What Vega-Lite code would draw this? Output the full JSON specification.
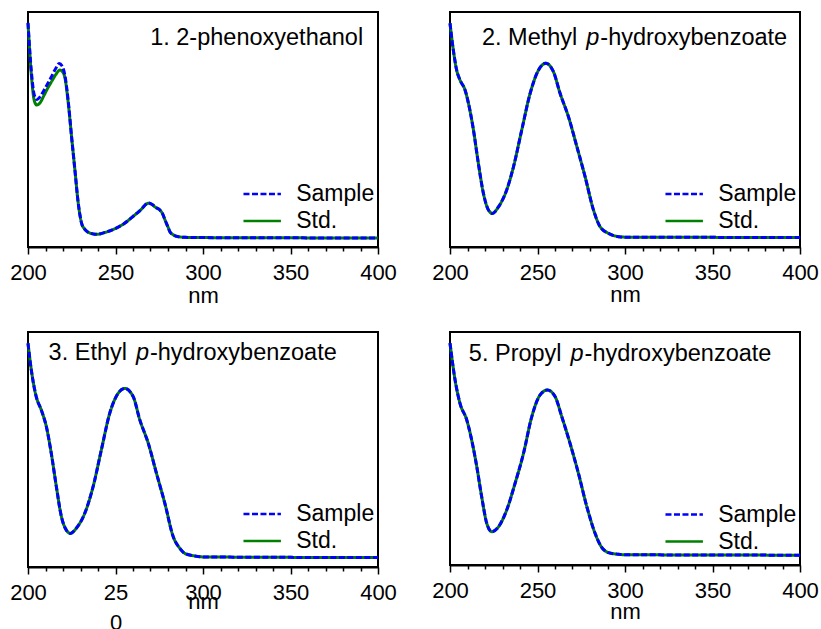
{
  "$schema": "https://vega.github.io/schema/vega-lite/v6.json",
  "padding": {"left": 8, "top": 11, "right": 0, "bottom": 0},
  "background": "white",
  "datasets": {
    "spectra": [
      {"panel":1,"series":"Std.","nm":200,"abs":0.952},{"panel":1,"series":"Std.","nm":202,"abs":0.725},{"panel":1,"series":"Std.","nm":203.5,"abs":0.626},{"panel":1,"series":"Std.","nm":205,"abs":0.604},{"panel":1,"series":"Std.","nm":207,"abs":0.615},{"panel":1,"series":"Std.","nm":209,"abs":0.643},{"panel":1,"series":"Std.","nm":211,"abs":0.672},{"panel":1,"series":"Std.","nm":213.4,"abs":0.703},{"panel":1,"series":"Std.","nm":216,"abs":0.735},{"panel":1,"series":"Std.","nm":218.2,"abs":0.753},{"panel":1,"series":"Std.","nm":219.8,"abs":0.745},{"panel":1,"series":"Std.","nm":221.1,"abs":0.72},{"panel":1,"series":"Std.","nm":223,"abs":0.613},{"panel":1,"series":"Std.","nm":224.9,"abs":0.469},{"panel":1,"series":"Std.","nm":226.8,"abs":0.328},{"panel":1,"series":"Std.","nm":228.7,"abs":0.187},{"panel":1,"series":"Std.","nm":230.6,"abs":0.102},{"panel":1,"series":"Std.","nm":232.5,"abs":0.075},{"panel":1,"series":"Std.","nm":234.4,"abs":0.063},{"panel":1,"series":"Std.","nm":237,"abs":0.056},{"panel":1,"series":"Std.","nm":239.2,"abs":0.054},{"panel":1,"series":"Std.","nm":244,"abs":0.062},{"panel":1,"series":"Std.","nm":249.7,"abs":0.078},{"panel":1,"series":"Std.","nm":255,"abs":0.1},{"panel":1,"series":"Std.","nm":259.2,"abs":0.125},{"panel":1,"series":"Std.","nm":264,"abs":0.155},{"panel":1,"series":"Std.","nm":268.8,"abs":0.186},{"panel":1,"series":"Std.","nm":271,"abs":0.18},{"panel":1,"series":"Std.","nm":273,"abs":0.168},{"panel":1,"series":"Std.","nm":275.4,"abs":0.157},{"panel":1,"series":"Std.","nm":277,"abs":0.14},{"panel":1,"series":"Std.","nm":278.3,"abs":0.115},{"panel":1,"series":"Std.","nm":280,"abs":0.085},{"panel":1,"series":"Std.","nm":281.1,"abs":0.065},{"panel":1,"series":"Std.","nm":283,"abs":0.052},{"panel":1,"series":"Std.","nm":285.9,"abs":0.044},{"panel":1,"series":"Std.","nm":290,"abs":0.041},{"panel":1,"series":"Std.","nm":300,"abs":0.04},{"panel":1,"series":"Std.","nm":350,"abs":0.039},{"panel":1,"series":"Std.","nm":400,"abs":0.038},
      {"panel":1,"series":"Sample","nm":200,"abs":0.954},{"panel":1,"series":"Sample","nm":202,"abs":0.74},{"panel":1,"series":"Sample","nm":203.5,"abs":0.65},{"panel":1,"series":"Sample","nm":205,"abs":0.628},{"panel":1,"series":"Sample","nm":207,"abs":0.64},{"panel":1,"series":"Sample","nm":209,"abs":0.665},{"panel":1,"series":"Sample","nm":211,"abs":0.692},{"panel":1,"series":"Sample","nm":213.4,"abs":0.725},{"panel":1,"series":"Sample","nm":216,"abs":0.762},{"panel":1,"series":"Sample","nm":217.8,"abs":0.781},{"panel":1,"series":"Sample","nm":219.5,"abs":0.77},{"panel":1,"series":"Sample","nm":221.1,"abs":0.73},{"panel":1,"series":"Sample","nm":223,"abs":0.62},{"panel":1,"series":"Sample","nm":224.9,"abs":0.469},{"panel":1,"series":"Sample","nm":226.8,"abs":0.328},{"panel":1,"series":"Sample","nm":228.7,"abs":0.187},{"panel":1,"series":"Sample","nm":230.6,"abs":0.102},{"panel":1,"series":"Sample","nm":232.5,"abs":0.075},{"panel":1,"series":"Sample","nm":234.4,"abs":0.063},{"panel":1,"series":"Sample","nm":237,"abs":0.056},{"panel":1,"series":"Sample","nm":239.2,"abs":0.054},{"panel":1,"series":"Sample","nm":244,"abs":0.062},{"panel":1,"series":"Sample","nm":249.7,"abs":0.078},{"panel":1,"series":"Sample","nm":255,"abs":0.1},{"panel":1,"series":"Sample","nm":259.2,"abs":0.125},{"panel":1,"series":"Sample","nm":264,"abs":0.155},{"panel":1,"series":"Sample","nm":268.8,"abs":0.187},{"panel":1,"series":"Sample","nm":271,"abs":0.181},{"panel":1,"series":"Sample","nm":273,"abs":0.169},{"panel":1,"series":"Sample","nm":275.4,"abs":0.157},{"panel":1,"series":"Sample","nm":277,"abs":0.14},{"panel":1,"series":"Sample","nm":278.3,"abs":0.115},{"panel":1,"series":"Sample","nm":280,"abs":0.085},{"panel":1,"series":"Sample","nm":281.1,"abs":0.065},{"panel":1,"series":"Sample","nm":283,"abs":0.052},{"panel":1,"series":"Sample","nm":285.9,"abs":0.044},{"panel":1,"series":"Sample","nm":290,"abs":0.041},{"panel":1,"series":"Sample","nm":300,"abs":0.04},{"panel":1,"series":"Sample","nm":350,"abs":0.039},{"panel":1,"series":"Sample","nm":400,"abs":0.038},
      {"panel":2,"series":"Std.","nm":200,"abs":0.952},{"panel":2,"series":"Std.","nm":201.9,"abs":0.838},{"panel":2,"series":"Std.","nm":203.8,"abs":0.753},{"panel":2,"series":"Std.","nm":205.7,"abs":0.711},{"panel":2,"series":"Std.","nm":208.6,"abs":0.668},{"panel":2,"series":"Std.","nm":210.5,"abs":0.613},{"panel":2,"series":"Std.","nm":213.4,"abs":0.498},{"panel":2,"series":"Std.","nm":216.2,"abs":0.356},{"panel":2,"series":"Std.","nm":219.1,"abs":0.228},{"panel":2,"series":"Std.","nm":222,"abs":0.157},{"panel":2,"series":"Std.","nm":224.2,"abs":0.143},{"panel":2,"series":"Std.","nm":227.7,"abs":0.171},{"panel":2,"series":"Std.","nm":232.4,"abs":0.243},{"panel":2,"series":"Std.","nm":236.3,"abs":0.342},{"panel":2,"series":"Std.","nm":241,"abs":0.498},{"panel":2,"series":"Std.","nm":245.8,"abs":0.654},{"panel":2,"series":"Std.","nm":250.6,"abs":0.753},{"panel":2,"series":"Std.","nm":254.7,"abs":0.782},{"panel":2,"series":"Std.","nm":259.1,"abs":0.746},{"panel":2,"series":"Std.","nm":262.9,"abs":0.654},{"panel":2,"series":"Std.","nm":267.7,"abs":0.554},{"panel":2,"series":"Std.","nm":272.5,"abs":0.427},{"panel":2,"series":"Std.","nm":277.2,"abs":0.299},{"panel":2,"series":"Std.","nm":282,"abs":0.157},{"panel":2,"series":"Std.","nm":285.8,"abs":0.086},{"panel":2,"series":"Std.","nm":290.6,"abs":0.058},{"panel":2,"series":"Std.","nm":296.3,"abs":0.044},{"panel":2,"series":"Std.","nm":300,"abs":0.042},{"panel":2,"series":"Std.","nm":350,"abs":0.041},{"panel":2,"series":"Std.","nm":400,"abs":0.04},
      {"panel":2,"series":"Sample","nm":200,"abs":0.952},{"panel":2,"series":"Sample","nm":201.9,"abs":0.838},{"panel":2,"series":"Sample","nm":203.8,"abs":0.753},{"panel":2,"series":"Sample","nm":205.7,"abs":0.711},{"panel":2,"series":"Sample","nm":208.6,"abs":0.668},{"panel":2,"series":"Sample","nm":210.5,"abs":0.613},{"panel":2,"series":"Sample","nm":213.4,"abs":0.498},{"panel":2,"series":"Sample","nm":216.2,"abs":0.356},{"panel":2,"series":"Sample","nm":219.1,"abs":0.228},{"panel":2,"series":"Sample","nm":222,"abs":0.157},{"panel":2,"series":"Sample","nm":224.2,"abs":0.143},{"panel":2,"series":"Sample","nm":227.7,"abs":0.171},{"panel":2,"series":"Sample","nm":232.4,"abs":0.243},{"panel":2,"series":"Sample","nm":236.3,"abs":0.342},{"panel":2,"series":"Sample","nm":241,"abs":0.498},{"panel":2,"series":"Sample","nm":245.8,"abs":0.654},{"panel":2,"series":"Sample","nm":250.6,"abs":0.753},{"panel":2,"series":"Sample","nm":254.7,"abs":0.782},{"panel":2,"series":"Sample","nm":259.1,"abs":0.746},{"panel":2,"series":"Sample","nm":262.9,"abs":0.654},{"panel":2,"series":"Sample","nm":267.7,"abs":0.554},{"panel":2,"series":"Sample","nm":272.5,"abs":0.427},{"panel":2,"series":"Sample","nm":277.2,"abs":0.299},{"panel":2,"series":"Sample","nm":282,"abs":0.157},{"panel":2,"series":"Sample","nm":285.8,"abs":0.086},{"panel":2,"series":"Sample","nm":290.6,"abs":0.058},{"panel":2,"series":"Sample","nm":296.3,"abs":0.044},{"panel":2,"series":"Sample","nm":300,"abs":0.042},{"panel":2,"series":"Sample","nm":350,"abs":0.041},{"panel":2,"series":"Sample","nm":400,"abs":0.04},
      {"panel":3,"series":"Std.","nm":200,"abs":0.952},{"panel":3,"series":"Std.","nm":201.9,"abs":0.838},{"panel":3,"series":"Std.","nm":204.7,"abs":0.725},{"panel":3,"series":"Std.","nm":207.6,"abs":0.668},{"panel":3,"series":"Std.","nm":210.5,"abs":0.597},{"panel":3,"series":"Std.","nm":213.3,"abs":0.484},{"panel":3,"series":"Std.","nm":216.2,"abs":0.342},{"panel":3,"series":"Std.","nm":219.1,"abs":0.214},{"panel":3,"series":"Std.","nm":221.9,"abs":0.157},{"panel":3,"series":"Std.","nm":224.2,"abs":0.143},{"panel":3,"series":"Std.","nm":227.6,"abs":0.165},{"panel":3,"series":"Std.","nm":232.4,"abs":0.228},{"panel":3,"series":"Std.","nm":237.2,"abs":0.342},{"panel":3,"series":"Std.","nm":241.9,"abs":0.498},{"panel":3,"series":"Std.","nm":246.7,"abs":0.654},{"panel":3,"series":"Std.","nm":251.5,"abs":0.739},{"panel":3,"series":"Std.","nm":255.3,"abs":0.76},{"panel":3,"series":"Std.","nm":260.1,"abs":0.725},{"panel":3,"series":"Std.","nm":263.9,"abs":0.626},{"panel":3,"series":"Std.","nm":268.7,"abs":0.527},{"panel":3,"series":"Std.","nm":273.4,"abs":0.399},{"panel":3,"series":"Std.","nm":278.2,"abs":0.271},{"panel":3,"series":"Std.","nm":283,"abs":0.129},{"panel":3,"series":"Std.","nm":286.7,"abs":0.08},{"panel":3,"series":"Std.","nm":289.6,"abs":0.058},{"panel":3,"series":"Std.","nm":295.3,"abs":0.047},{"panel":3,"series":"Std.","nm":300,"abs":0.043},{"panel":3,"series":"Std.","nm":350,"abs":0.041},{"panel":3,"series":"Std.","nm":400,"abs":0.04},
      {"panel":3,"series":"Sample","nm":200,"abs":0.952},{"panel":3,"series":"Sample","nm":201.9,"abs":0.838},{"panel":3,"series":"Sample","nm":204.7,"abs":0.725},{"panel":3,"series":"Sample","nm":207.6,"abs":0.668},{"panel":3,"series":"Sample","nm":210.5,"abs":0.597},{"panel":3,"series":"Sample","nm":213.3,"abs":0.484},{"panel":3,"series":"Sample","nm":216.2,"abs":0.342},{"panel":3,"series":"Sample","nm":219.1,"abs":0.214},{"panel":3,"series":"Sample","nm":221.9,"abs":0.157},{"panel":3,"series":"Sample","nm":224.2,"abs":0.143},{"panel":3,"series":"Sample","nm":227.6,"abs":0.165},{"panel":3,"series":"Sample","nm":232.4,"abs":0.228},{"panel":3,"series":"Sample","nm":237.2,"abs":0.342},{"panel":3,"series":"Sample","nm":241.9,"abs":0.498},{"panel":3,"series":"Sample","nm":246.7,"abs":0.654},{"panel":3,"series":"Sample","nm":251.5,"abs":0.739},{"panel":3,"series":"Sample","nm":255.3,"abs":0.76},{"panel":3,"series":"Sample","nm":260.1,"abs":0.725},{"panel":3,"series":"Sample","nm":263.9,"abs":0.626},{"panel":3,"series":"Sample","nm":268.7,"abs":0.527},{"panel":3,"series":"Sample","nm":273.4,"abs":0.399},{"panel":3,"series":"Sample","nm":278.2,"abs":0.271},{"panel":3,"series":"Sample","nm":283,"abs":0.129},{"panel":3,"series":"Sample","nm":286.7,"abs":0.08},{"panel":3,"series":"Sample","nm":289.6,"abs":0.058},{"panel":3,"series":"Sample","nm":295.3,"abs":0.047},{"panel":3,"series":"Sample","nm":300,"abs":0.043},{"panel":3,"series":"Sample","nm":350,"abs":0.041},{"panel":3,"series":"Sample","nm":400,"abs":0.04},
      {"panel":4,"series":"Std.","nm":200,"abs":0.952},{"panel":4,"series":"Std.","nm":202.9,"abs":0.794},{"panel":4,"series":"Std.","nm":205.7,"abs":0.694},{"panel":4,"series":"Std.","nm":209.6,"abs":0.622},{"panel":4,"series":"Std.","nm":212.4,"abs":0.536},{"panel":4,"series":"Std.","nm":215.3,"abs":0.422},{"panel":4,"series":"Std.","nm":218.1,"abs":0.293},{"panel":4,"series":"Std.","nm":221,"abs":0.179},{"panel":4,"series":"Std.","nm":223.9,"abs":0.143},{"panel":4,"series":"Std.","nm":227.7,"abs":0.164},{"panel":4,"series":"Std.","nm":232.4,"abs":0.236},{"panel":4,"series":"Std.","nm":237.2,"abs":0.351},{"panel":4,"series":"Std.","nm":242,"abs":0.479},{"panel":4,"series":"Std.","nm":246.7,"abs":0.636},{"panel":4,"series":"Std.","nm":251.5,"abs":0.73},{"panel":4,"series":"Std.","nm":255.7,"abs":0.751},{"panel":4,"series":"Std.","nm":260.1,"abs":0.722},{"panel":4,"series":"Std.","nm":263.9,"abs":0.636},{"panel":4,"series":"Std.","nm":268.6,"abs":0.522},{"panel":4,"series":"Std.","nm":273.4,"abs":0.393},{"panel":4,"series":"Std.","nm":278.2,"abs":0.25},{"panel":4,"series":"Std.","nm":282.9,"abs":0.136},{"panel":4,"series":"Std.","nm":286.4,"abs":0.079},{"panel":4,"series":"Std.","nm":290.6,"abs":0.053},{"panel":4,"series":"Std.","nm":296.3,"abs":0.046},{"panel":4,"series":"Std.","nm":300,"abs":0.044},{"panel":4,"series":"Std.","nm":350,"abs":0.043},{"panel":4,"series":"Std.","nm":400,"abs":0.042},
      {"panel":4,"series":"Sample","nm":200,"abs":0.952},{"panel":4,"series":"Sample","nm":202.9,"abs":0.794},{"panel":4,"series":"Sample","nm":205.7,"abs":0.694},{"panel":4,"series":"Sample","nm":209.6,"abs":0.622},{"panel":4,"series":"Sample","nm":212.4,"abs":0.536},{"panel":4,"series":"Sample","nm":215.3,"abs":0.422},{"panel":4,"series":"Sample","nm":218.1,"abs":0.293},{"panel":4,"series":"Sample","nm":221,"abs":0.179},{"panel":4,"series":"Sample","nm":223.9,"abs":0.143},{"panel":4,"series":"Sample","nm":227.7,"abs":0.164},{"panel":4,"series":"Sample","nm":232.4,"abs":0.236},{"panel":4,"series":"Sample","nm":237.2,"abs":0.351},{"panel":4,"series":"Sample","nm":242,"abs":0.479},{"panel":4,"series":"Sample","nm":246.7,"abs":0.636},{"panel":4,"series":"Sample","nm":251.5,"abs":0.73},{"panel":4,"series":"Sample","nm":255.7,"abs":0.751},{"panel":4,"series":"Sample","nm":260.1,"abs":0.722},{"panel":4,"series":"Sample","nm":263.9,"abs":0.636},{"panel":4,"series":"Sample","nm":268.6,"abs":0.522},{"panel":4,"series":"Sample","nm":273.4,"abs":0.393},{"panel":4,"series":"Sample","nm":278.2,"abs":0.25},{"panel":4,"series":"Sample","nm":282.9,"abs":0.136},{"panel":4,"series":"Sample","nm":286.4,"abs":0.079},{"panel":4,"series":"Sample","nm":290.6,"abs":0.053},{"panel":4,"series":"Sample","nm":296.3,"abs":0.046},{"panel":4,"series":"Sample","nm":300,"abs":0.044},{"panel":4,"series":"Sample","nm":350,"abs":0.043},{"panel":4,"series":"Sample","nm":400,"abs":0.042}
    ],
    "titles": [
      {"panel":1,"part":"all","label":"1. 2-phenoxyethanol"},
      {"panel":2,"part":"pre","label":"2. Methyl"},{"panel":2,"part":"p","label":"p"},{"panel":2,"part":"post","label":"-hydroxybenzoate"},
      {"panel":3,"part":"pre","label":"3. Ethyl"},{"panel":3,"part":"p","label":"p"},{"panel":3,"part":"post","label":"-hydroxybenzoate"},
      {"panel":4,"part":"pre","label":"5. Propyl"},{"panel":4,"part":"p","label":"p"},{"panel":4,"part":"post","label":"-hydroxybenzoate"}
    ]
  },
  "data": {"name": "spectra"},
  "columns": 2,
  "spacing": {"row": 85, "column": 72},
  "bounds": "flush",
  "resolve": {
    "scale": {"color": "independent", "strokeDash": "independent", "x": "independent", "y": "independent"},
    "legend": {"color": "independent", "strokeDash": "independent"},
    "axis": {"x": "independent"}
  },
  "config": {
    "view": {"stroke": "black", "strokeWidth": 2},
    "axis": {"domainColor": "black", "domainWidth": 2, "tickColor": "black", "tickWidth": 1.5, "grid": false, "labelFont": "Liberation Sans", "labelFontSize": 22, "labelColor": "black", "titleFont": "Liberation Sans", "titleFontSize": 22, "titleFontWeight": "normal", "titleColor": "black", "labelOverlap": false, "labelFlush": false},
    "legend": {"title": null, "padding": 0, "rowPadding": 0, "symbolType": "M-1.44,0H1.44", "symbolSize": 676, "symbolStrokeWidth": 2.5, "labelFont": "Liberation Sans", "labelFontSize": 23, "labelColor": "black", "labelOffset": 19.5},
    "text": {"font": "Liberation Sans", "fontSize": 23.5, "color": "black", "baseline": "alphabetic"}
  },
  "concat": [
    {
      "width": 350, "height": 235,
      "resolve": {"axis": {"x": "independent"}},
      "layer": [
        {"transform": [{"filter": "datum.panel == 1 && datum.series == 'Std.'"}],
         "mark": {"type": "line", "interpolate": "monotone", "strokeWidth": 3},
         "encoding": {
           "x": {"field": "nm", "type": "quantitative", "scale": {"domain": [200, 400], "nice": false, "zero": false},
                 "axis": {"orient": "bottom", "title": "nm", "values": [200, 250, 300, 350, 400], "tickSize": 7, "labelPadding": 8, "titleY": 55, "titleBaseline": "alphabetic"}},
           "y": {"field": "abs", "type": "quantitative", "scale": {"domain": [0, 1], "nice": false, "zero": false}, "axis": null},
           "color": {"field": "series", "type": "nominal", "scale": {"domain": ["Sample", "Std."], "range": ["#0000ff", "#008000"]}, "legend": {"orient": "none", "legendX": 219.7, "legendY": 167.5}},
           "strokeDash": {"field": "series", "type": "nominal", "scale": {"domain": ["Sample", "Std."], "range": [[6, 2.5], [1, 0]]}, "legend": {"orient": "none", "legendX": 219.7, "legendY": 167.5}}
         }},
        {"transform": [{"filter": "datum.panel == 1 && datum.series == 'Sample'"}],
         "mark": {"type": "line", "interpolate": "monotone", "strokeWidth": 3},
         "encoding": {
           "x": {"field": "nm", "type": "quantitative", "axis": {"orient": "bottom", "title": null, "values": [210,220,230,240,260,270,280,290,310,320,330,340,360,370,380,390], "labels": false, "domain": false, "tickSize": 4}},
           "y": {"field": "abs", "type": "quantitative", "axis": null},
           "color": {"field": "series", "type": "nominal"},
           "strokeDash": {"field": "series", "type": "nominal"}
         }},
        {"data": {"name": "titles"}, "transform": [{"filter": "datum.panel == 1"}],
         "mark": {"type": "text", "align": "right"},
         "encoding": {"x": {"datum": 391.5, "type": "quantitative", "axis": null}, "y": {"datum": 0.86, "type": "quantitative", "axis": null}, "text": {"field": "label"}}}
      ]
    },
    {
      "width": 350, "height": 235,
      "resolve": {"axis": {"x": "independent"}},
      "layer": [
        {"transform": [{"filter": "datum.panel == 2 && datum.series == 'Std.'"}],
         "mark": {"type": "line", "interpolate": "monotone", "strokeWidth": 3},
         "encoding": {
           "x": {"field": "nm", "type": "quantitative", "scale": {"domain": [200, 400], "nice": false, "zero": false},
                 "axis": {"orient": "bottom", "title": "nm", "values": [200, 250, 300, 350, 400], "tickSize": 7, "labelPadding": 8, "titleY": 54, "titleBaseline": "alphabetic"}},
           "y": {"field": "abs", "type": "quantitative", "scale": {"domain": [0, 1], "nice": false, "zero": false}, "axis": null},
           "color": {"field": "series", "type": "nominal", "scale": {"domain": ["Sample", "Std."], "range": ["#0000ff", "#008000"]}, "legend": {"orient": "none", "legendX": 219.7, "legendY": 167.5}},
           "strokeDash": {"field": "series", "type": "nominal", "scale": {"domain": ["Sample", "Std."], "range": [[6, 2.5], [1, 0]]}, "legend": {"orient": "none", "legendX": 219.7, "legendY": 167.5}}
         }},
        {"transform": [{"filter": "datum.panel == 2 && datum.series == 'Sample'"}],
         "mark": {"type": "line", "interpolate": "monotone", "strokeWidth": 3},
         "encoding": {
           "x": {"field": "nm", "type": "quantitative", "axis": {"orient": "bottom", "title": null, "values": [210,220,230,240,260,270,280,290,310,320,330,340,360,370,380,390], "labels": false, "domain": false, "tickSize": 4}},
           "y": {"field": "abs", "type": "quantitative", "axis": null},
           "color": {"field": "series", "type": "nominal"},
           "strokeDash": {"field": "series", "type": "nominal"}
         }},
        {"data": {"name": "titles"}, "transform": [{"filter": "datum.panel == 2 && datum.part == 'pre'"}],
         "mark": {"type": "text", "align": "right", "dx": -9},
         "encoding": {"x": {"datum": 277.9, "type": "quantitative", "axis": null}, "y": {"datum": 0.86, "type": "quantitative", "axis": null}, "text": {"field": "label"}}},
        {"data": {"name": "titles"}, "transform": [{"filter": "datum.panel == 2 && datum.part == 'p'"}],
         "mark": {"type": "text", "align": "left", "fontStyle": "italic"},
         "encoding": {"x": {"datum": 277.9, "type": "quantitative", "axis": null}, "y": {"datum": 0.86, "type": "quantitative", "axis": null}, "text": {"field": "label"}}},
        {"data": {"name": "titles"}, "transform": [{"filter": "datum.panel == 2 && datum.part == 'post'"}],
         "mark": {"type": "text", "align": "left", "dx": 14},
         "encoding": {"x": {"datum": 277.9, "type": "quantitative", "axis": null}, "y": {"datum": 0.86, "type": "quantitative", "axis": null}, "text": {"field": "label"}}}
      ]
    },
    {
      "width": 350, "height": 235,
      "resolve": {"axis": {"x": "independent"}},
      "layer": [
        {"transform": [{"filter": "datum.panel == 3 && datum.series == 'Std.'"}],
         "mark": {"type": "line", "interpolate": "monotone", "strokeWidth": 3},
         "encoding": {
           "x": {"field": "nm", "type": "quantitative", "scale": {"domain": [200, 400], "nice": false, "zero": false},
                 "axis": {"orient": "bottom", "title": "nm", "values": [200, 250, 300, 350, 400], "labelExpr": "datum.value === 250 ? ['25', '0'] : datum.label", "labelLineHeight": 30, "tickSize": 7, "labelPadding": 8, "titleY": 41, "titleBaseline": "alphabetic"}},
           "y": {"field": "abs", "type": "quantitative", "scale": {"domain": [0, 1], "nice": false, "zero": false}, "axis": null},
           "color": {"field": "series", "type": "nominal", "scale": {"domain": ["Sample", "Std."], "range": ["#0000ff", "#008000"]}, "legend": {"orient": "none", "legendX": 219.7, "legendY": 167.5}},
           "strokeDash": {"field": "series", "type": "nominal", "scale": {"domain": ["Sample", "Std."], "range": [[6, 2.5], [1, 0]]}, "legend": {"orient": "none", "legendX": 219.7, "legendY": 167.5}}
         }},
        {"transform": [{"filter": "datum.panel == 3 && datum.series == 'Sample'"}],
         "mark": {"type": "line", "interpolate": "monotone", "strokeWidth": 3},
         "encoding": {
           "x": {"field": "nm", "type": "quantitative", "axis": {"orient": "bottom", "title": null, "values": [210,220,230,240,260,270,280,290,310,320,330,340,360,370,380,390], "labels": false, "domain": false, "tickSize": 4}},
           "y": {"field": "abs", "type": "quantitative", "axis": null},
           "color": {"field": "series", "type": "nominal"},
           "strokeDash": {"field": "series", "type": "nominal"}
         }},
        {"data": {"name": "titles"}, "transform": [{"filter": "datum.panel == 3 && datum.part == 'pre'"}],
         "mark": {"type": "text", "align": "right", "dx": -9},
         "encoding": {"x": {"datum": 261.7, "type": "quantitative", "axis": null}, "y": {"datum": 0.881, "type": "quantitative", "axis": null}, "text": {"field": "label"}}},
        {"data": {"name": "titles"}, "transform": [{"filter": "datum.panel == 3 && datum.part == 'p'"}],
         "mark": {"type": "text", "align": "left", "fontStyle": "italic"},
         "encoding": {"x": {"datum": 261.7, "type": "quantitative", "axis": null}, "y": {"datum": 0.881, "type": "quantitative", "axis": null}, "text": {"field": "label"}}},
        {"data": {"name": "titles"}, "transform": [{"filter": "datum.panel == 3 && datum.part == 'post'"}],
         "mark": {"type": "text", "align": "left", "dx": 14},
         "encoding": {"x": {"datum": 261.7, "type": "quantitative", "axis": null}, "y": {"datum": 0.881, "type": "quantitative", "axis": null}, "text": {"field": "label"}}}
      ]
    },
    {
      "width": 350, "height": 233,
      "resolve": {"axis": {"x": "independent"}},
      "layer": [
        {"transform": [{"filter": "datum.panel == 4 && datum.series == 'Std.'"}],
         "mark": {"type": "line", "interpolate": "monotone", "strokeWidth": 3},
         "encoding": {
           "x": {"field": "nm", "type": "quantitative", "scale": {"domain": [200, 400], "nice": false, "zero": false},
                 "axis": {"orient": "bottom", "title": "nm", "values": [200, 250, 300, 350, 400], "tickSize": 7, "labelPadding": 8, "titleY": 53, "titleBaseline": "alphabetic"}},
           "y": {"field": "abs", "type": "quantitative", "scale": {"domain": [0, 1], "nice": false, "zero": false}, "axis": null},
           "color": {"field": "series", "type": "nominal", "scale": {"domain": ["Sample", "Std."], "range": ["#0000ff", "#008000"]}, "legend": {"orient": "none", "legendX": 219.7, "legendY": 168}},
           "strokeDash": {"field": "series", "type": "nominal", "scale": {"domain": ["Sample", "Std."], "range": [[6, 2.5], [1, 0]]}, "legend": {"orient": "none", "legendX": 219.7, "legendY": 168}}
         }},
        {"transform": [{"filter": "datum.panel == 4 && datum.series == 'Sample'"}],
         "mark": {"type": "line", "interpolate": "monotone", "strokeWidth": 3},
         "encoding": {
           "x": {"field": "nm", "type": "quantitative", "axis": {"orient": "bottom", "title": null, "values": [210,220,230,240,260,270,280,290,310,320,330,340,360,370,380,390], "labels": false, "domain": false, "tickSize": 4}},
           "y": {"field": "abs", "type": "quantitative", "axis": null},
           "color": {"field": "series", "type": "nominal"},
           "strokeDash": {"field": "series", "type": "nominal"}
         }},
        {"data": {"name": "titles"}, "transform": [{"filter": "datum.panel == 4 && datum.part == 'pre'"}],
         "mark": {"type": "text", "align": "right", "dx": -9},
         "encoding": {"x": {"datum": 268.9, "type": "quantitative", "axis": null}, "y": {"datum": 0.877, "type": "quantitative", "axis": null}, "text": {"field": "label"}}},
        {"data": {"name": "titles"}, "transform": [{"filter": "datum.panel == 4 && datum.part == 'p'"}],
         "mark": {"type": "text", "align": "left", "fontStyle": "italic"},
         "encoding": {"x": {"datum": 268.9, "type": "quantitative", "axis": null}, "y": {"datum": 0.877, "type": "quantitative", "axis": null}, "text": {"field": "label"}}},
        {"data": {"name": "titles"}, "transform": [{"filter": "datum.panel == 4 && datum.part == 'post'"}],
         "mark": {"type": "text", "align": "left", "dx": 14},
         "encoding": {"x": {"datum": 268.9, "type": "quantitative", "axis": null}, "y": {"datum": 0.877, "type": "quantitative", "axis": null}, "text": {"field": "label"}}}
      ]
    }
  ]
}
